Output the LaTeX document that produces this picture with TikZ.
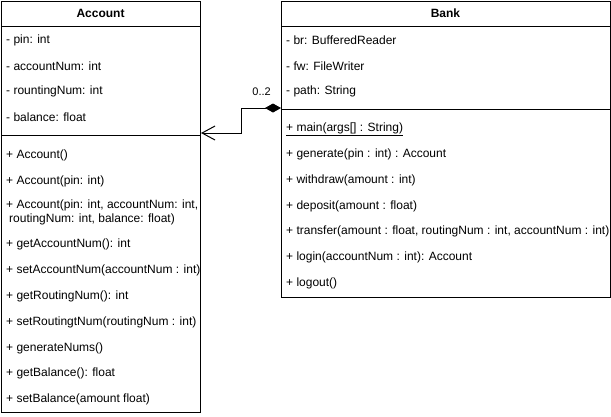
\documentclass[tikz,border=0pt]{standalone}
\usepackage{fontspec}
\setmainfont{Liberation Sans}
\usetikzlibrary{arrows.meta}
\begin{document}
\begin{tikzpicture}[x=1pt,y=-1pt,
  cls/.style={draw=black,line width=1pt,anchor=north west,inner sep=0pt},
  hdr/.style={font=\fontsize{12}{14}\selectfont\bfseries,inner sep=0pt},
  txt/.style={anchor=west,inner sep=0pt,font=\fontsize{12}{14}\selectfont,align=left},
  sep/.style={draw=black,line width=1pt},
  lbl/.style={anchor=east,inner sep=0pt,font=\fontsize{11}{13}\selectfont},
  conn/.style={draw=black,line width=1pt,
    {Diamond[length=16pt,width=9pt,fill=black]}-{Straight Barb[length=13pt,width=14pt,line width=1pt]}}
]
\useasboundingbox (0,0) rectangle (611,416);

% Account class
\node[cls,minimum width=199pt,minimum height=411pt] (acc) at (1,1) {};
\node[hdr] (acct) at (100.5,13.5) {Account};
\draw[sep] ([yshift=-25pt]acc.north west) -- ([yshift=-25pt]acc.north east);
\draw[sep] ([yshift=-134pt]acc.north west) -- ([yshift=-134pt]acc.north east);
\node[txt] (a1) at (6,40) {- pin: int};
\node[txt] (a2) at (6,66) {- accountNum: int};
\node[txt] (a3) at (6,91) {- rountingNum: int};
\node[txt] (a4) at (6,117) {- balance: float};
\node[txt] (m1) at (6,155) {+ Account()};
\node[txt] (m2) at (6,181) {+ Account(pin: int)};
\node[txt] (m3) at (6,212) {+ Account(pin: int, accountNum: int,\\\hspace{3pt}routingNum: int, balance: float)};
\node[txt] (m4) at (6,244) {+ getAccountNum(): int};
\node[txt] (m5) at (6,270) {+ setAccountNum(accountNum : int)};
\node[txt] (m6) at (6,296) {+ getRoutingNum(): int};
\node[txt] (m7) at (6,322) {+ setRoutingtNum(routingNum : int)};
\node[txt] (m8) at (6,348) {+ generateNums()};
\node[txt] (m9) at (6,373) {+ getBalance(): float};
\node[txt] (m10) at (6,399) {+ setBalance(amount float)};

% Bank class
\node[cls,minimum width=329pt,minimum height=296pt] (bank) at (281,1) {};
\node[hdr] (bankt) at (445.5,13.5) {Bank};
\draw[sep] ([yshift=-25pt]bank.north west) -- ([yshift=-25pt]bank.north east);
\draw[sep] ([yshift=-108pt]bank.north west) -- ([yshift=-108pt]bank.north east);
\node[txt] (b1) at (286,40) {- br: BufferedReader};
\node[txt] (b2) at (286,66) {- fw: FileWriter};
\node[txt] (b3) at (286,91) {- path: String};
\node[txt] (n1) at (286,129) {\underline{+ main(args[] : String)}};
\node[txt] (n2) at (286,154) {+ generate(pin : int) : Account};
\node[txt] (n3) at (286,180) {+ withdraw(amount : int)};
\node[txt] (n4) at (286,206) {+ deposit(amount : float)};
\node[txt] (n5) at (286,231) {+ transfer(amount : float, routingNum : int, accountNum : int)};
\node[txt] (n6) at (286,257) {+ login(accountNum : int): Account};
\node[txt] (n7) at (286,283) {+ logout()};

% Composition connector
\coordinate (cb) at ([yshift=-107pt]bank.north west);
\coordinate (ca) at ([yshift=-132pt]acc.north east);
\draw[conn] (cb) -- ++(-40,0) |- (ca);
\node[lbl] (mult) at (271,92) {0..2};
\end{tikzpicture}
\end{document}
